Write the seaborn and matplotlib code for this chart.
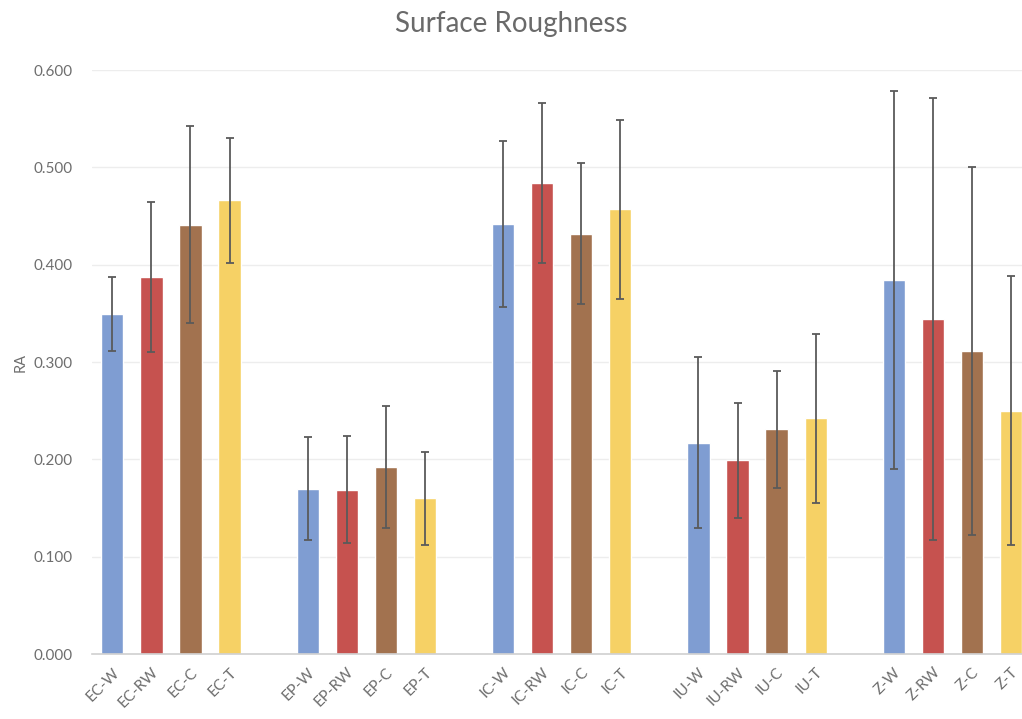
import numpy as np
import pandas as pd
import seaborn as sns
import matplotlib
matplotlib.use("Agg")
import matplotlib.pyplot as plt
from matplotlib.ticker import FormatStrFormatter

#%% Data
groups = ["EC", "EP", "IC", "IU", "Z"]
suffixes = ["W", "RW", "C", "T"]
labels = [f"{g}-{s}" for g in groups for s in suffixes]

ra_mean = [0.349, 0.387, 0.441, 0.466,
           0.170, 0.169, 0.192, 0.160,
           0.442, 0.484, 0.432, 0.457,
           0.217, 0.199, 0.231, 0.242,
           0.384, 0.344, 0.311, 0.250]
ra_err = [0.038, 0.077, 0.101, 0.064,
          0.053, 0.055, 0.063, 0.048,
          0.085, 0.082, 0.072, 0.092,
          0.088, 0.059, 0.060, 0.087,
          0.194, 0.227, 0.189, 0.138]

colors = {"W": "#7F9DD2", "RW": "#C6524F", "C": "#A2724F", "T": "#F6D165"}

#%% Build frame (blank slots between groups)
order = []
for i, g in enumerate(groups):
    order += [f"{g}-{s}" for s in suffixes]
    if i < len(groups) - 1:
        order.append(" " * (i + 1))

df = pd.DataFrame({"label": labels, "RA": ra_mean, "err": ra_err})

#%% Plot
sns.set_style("white")
plt.rcParams["font.family"] = ["Lato", "DejaVu Sans"]

fig = plt.figure(figsize=(10.22, 7.19), dpi=100)
ax = fig.add_axes([92 / 1022, 65 / 719, 1 - 92 / 1022, 584 / 719])

pal = {l: colors[l.split("-")[1]] for l in labels}
sns.barplot(data=df, x="label", y="RA", hue="label", order=order,
            palette=pal, width=0.57, legend=False, saturation=1, ax=ax)

xpos = [order.index(l) for l in df["label"]]
ax.errorbar(xpos, df["RA"], yerr=df["err"], fmt="none", ecolor="#5A5A5A",
            elinewidth=1.3, capsize=2.6, capthick=1.3, zorder=3)

ax.set_ylim(0, 0.6)
ax.set_xlim(-0.52, 23.28)
ax.set_yticks(np.arange(0, 0.61, 0.1))
ax.yaxis.set_major_formatter(FormatStrFormatter("%.3f"))
ax.grid(axis="y", color="#EDEDED", linewidth=1)
ax.set_axisbelow(True)

for s in ["top", "right", "left"]:
    ax.spines[s].set_visible(False)
ax.spines["bottom"].set_color("#D0D0D0")
ax.spines["bottom"].set_linewidth(1.2)

ax.tick_params(axis="both", length=0, colors="#6E6E6E", labelsize=11)
ax.tick_params(axis="y", pad=14)
ax.set_xticks(range(len(order)))
ax.set_xticklabels(order, rotation=45, ha="right", rotation_mode="anchor",
                   fontsize=11, color="#6E6E6E")
ax.tick_params(axis="x", pad=8)

ax.set_xlabel("")
ax.set_ylabel("RA", color="#6E6E6E", fontsize=10.5, labelpad=4)
fig.suptitle("Surface Roughness", y=0.985, fontsize=20, color="#6A6A6A")

fig.savefig("out.png", dpi=100)
